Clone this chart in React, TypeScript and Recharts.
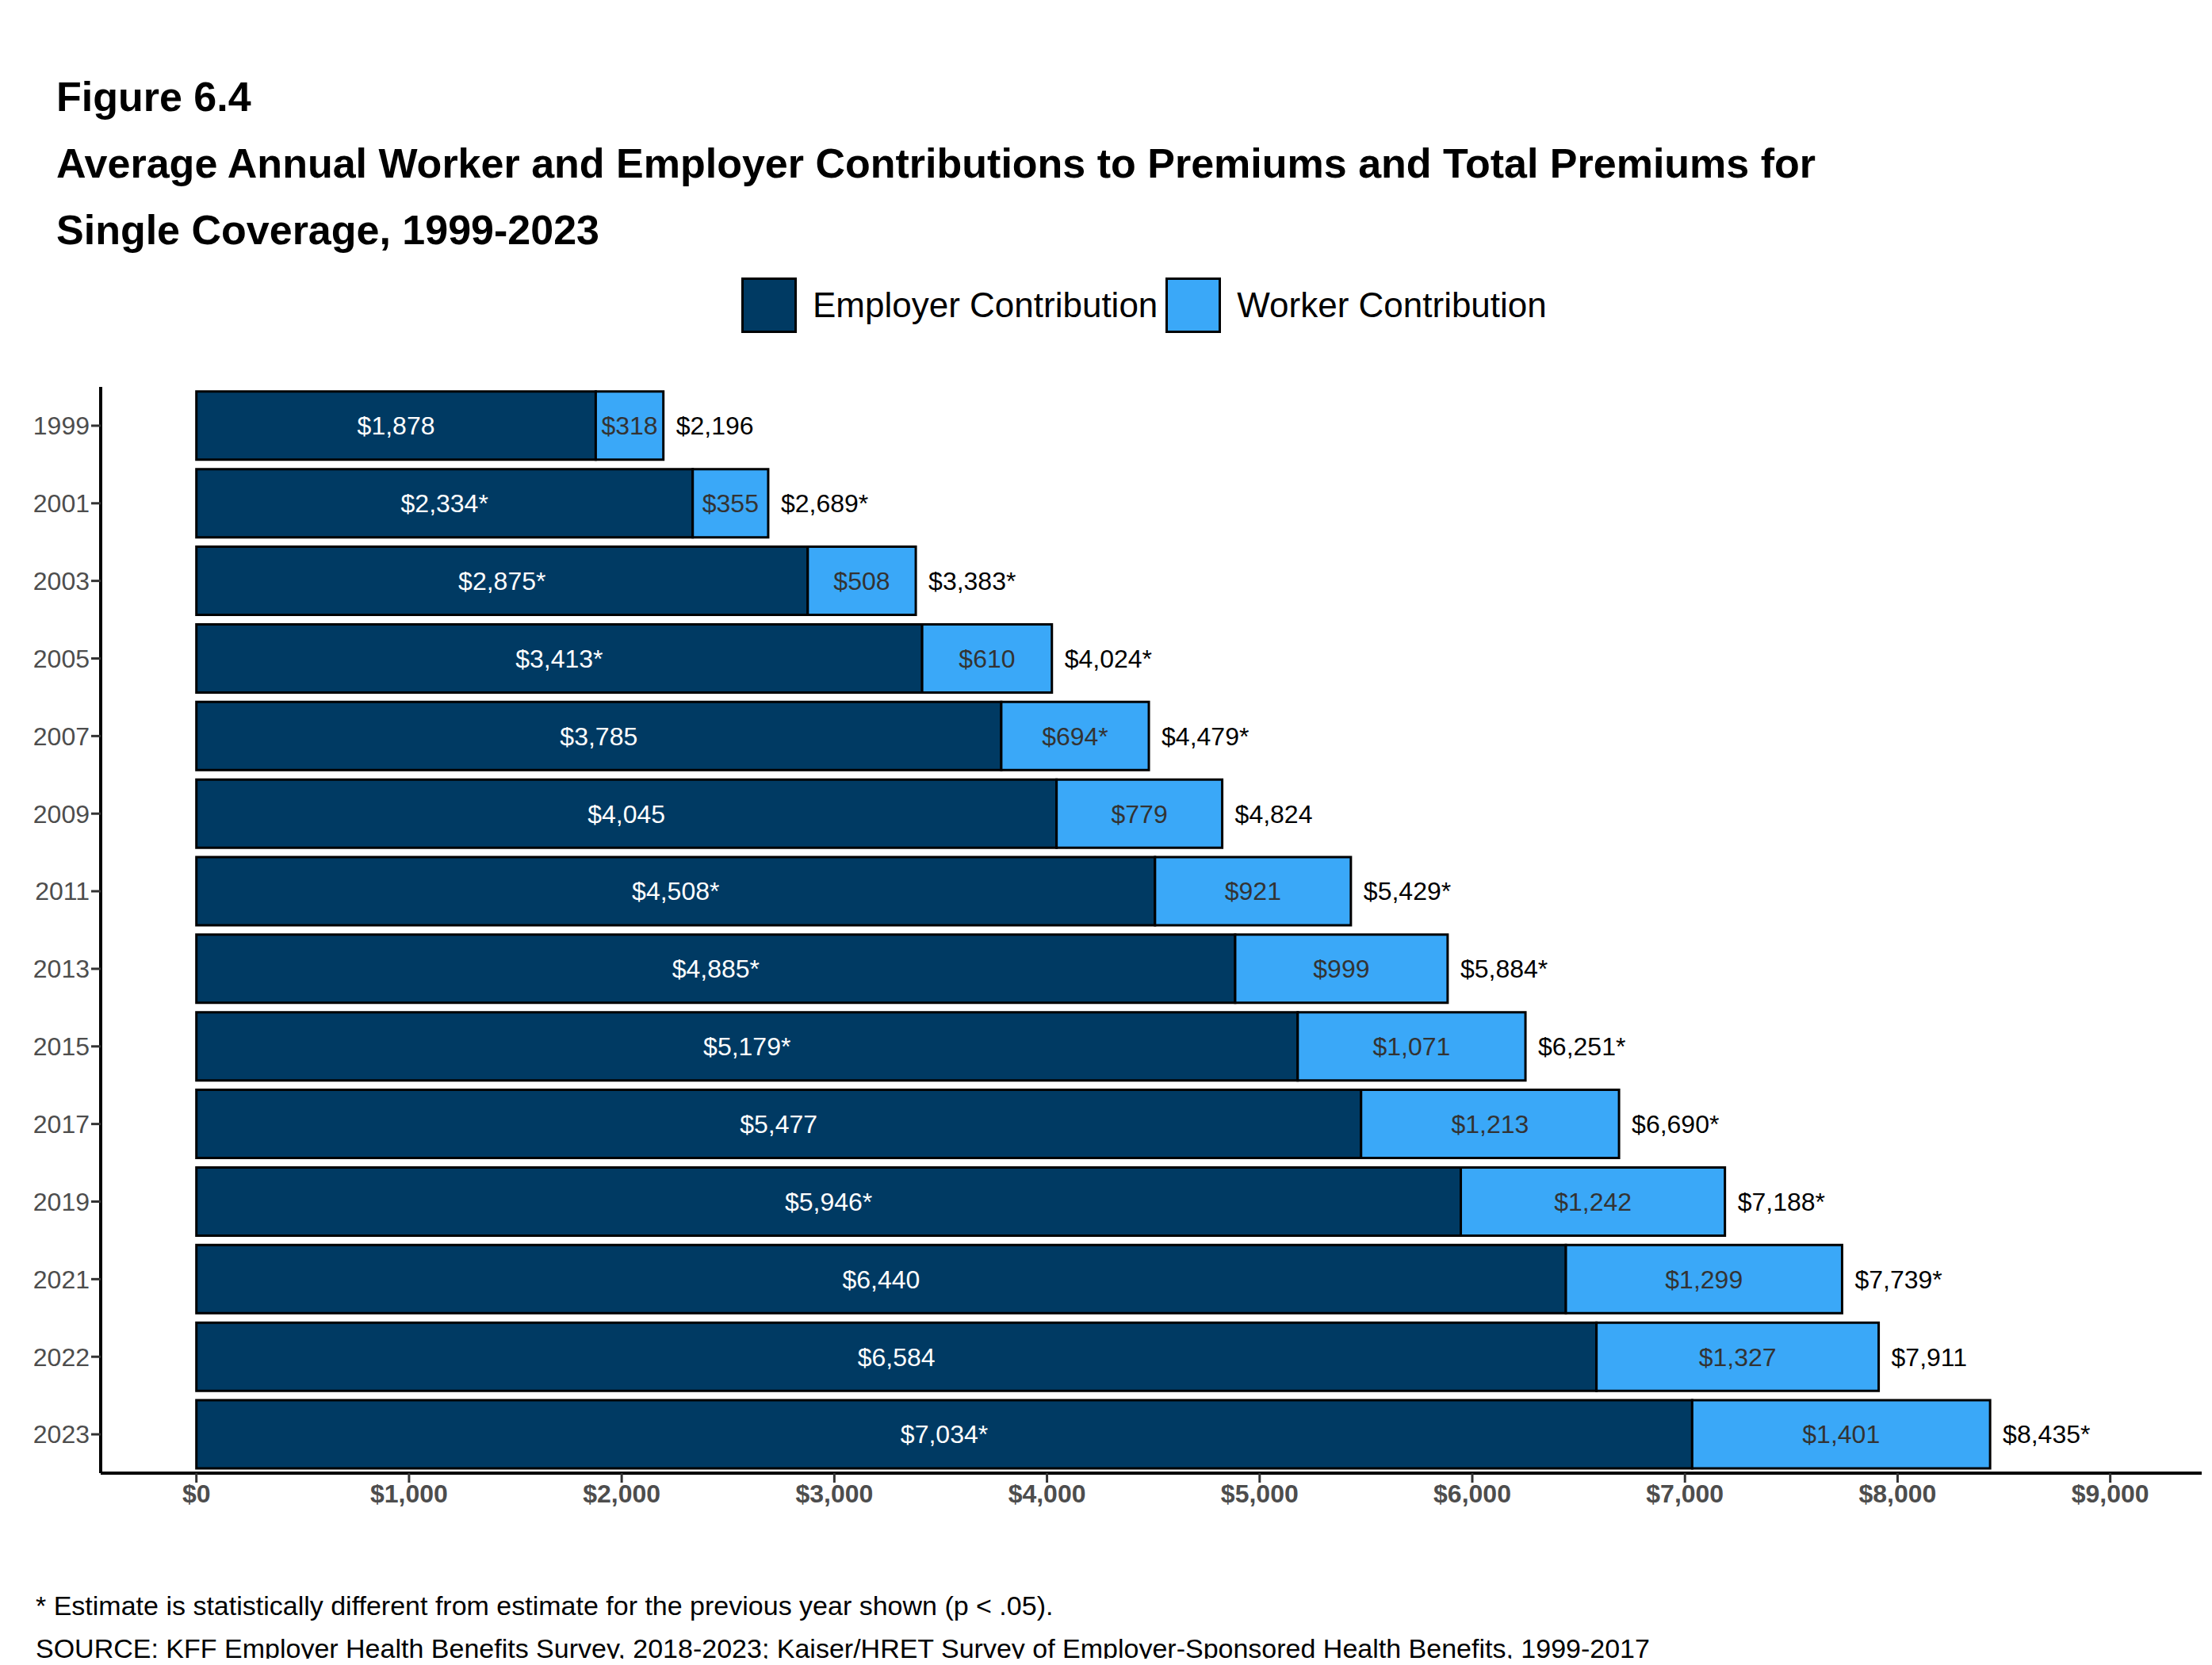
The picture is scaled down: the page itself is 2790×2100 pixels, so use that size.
import { Bar, BarChart, LabelList, XAxis, YAxis } from "recharts";

const years = ["1999", "2001", "2003", "2005", "2007", "2009", "2011", "2013", "2015", "2017", "2019", "2021", "2022", "2023"];
const employer = [1878, 2334, 2875, 3413, 3785, 4045, 4508, 4885, 5179, 5477, 5946, 6440, 6584, 7034];
const worker = [318, 355, 508, 610, 694, 779, 921, 999, 1071, 1213, 1242, 1299, 1327, 1401];
const employerLabels = ["$1,878", "$2,334*", "$2,875*", "$3,413*", "$3,785", "$4,045", "$4,508*", "$4,885*", "$5,179*", "$5,477", "$5,946*", "$6,440", "$6,584", "$7,034*"];
const workerLabels = ["$318", "$355", "$508", "$610", "$694*", "$779", "$921", "$999", "$1,071", "$1,213", "$1,242", "$1,299", "$1,327", "$1,401"];
const totalLabels = ["$2,196", "$2,689*", "$3,383*", "$4,024*", "$4,479*", "$4,824", "$5,429*", "$5,884*", "$6,251*", "$6,690*", "$7,188*", "$7,739*", "$7,911", "$8,435*"];
const xTicks = [0, 1000, 2000, 3000, 4000, 5000, 6000, 7000, 8000, 9000];

const data = years.map((y, i) => ({
  year: y,
  employer: employer[i],
  worker: worker[i],
  eLabel: employerLabels[i],
  wLabel: workerLabels[i],
  tLabel: totalLabels[i],
}));

const font = "'Liberation Sans', Arial, sans-serif";
const fmt = (v: number) => "$" + v.toLocaleString("en-US");

export default function App() {
  return (
    <div style={{ position: "relative", width: 2790, height: 2100, margin: -8, fontFamily: font, background: "#fff" }}>
      <div style={{ position: "absolute", left: 71, top: 80, fontSize: 52, fontWeight: "bold", lineHeight: "84px" }}>
        Figure 6.4
        <br />
        Average Annual Worker and Employer Contributions to Premiums and Total Premiums for
        <br />
        Single Coverage, 1999-2023
      </div>
      <div style={{ position: "absolute", left: 935, top: 350, display: "flex", alignItems: "center", fontSize: 44 }}>
        <div style={{ width: 64, height: 64, background: "#003a63", border: "3px solid #000" }} />
        <span style={{ marginLeft: 20, marginRight: 10 }}>Employer Contribution</span>
        <div style={{ width: 64, height: 64, background: "#3aa8f8", border: "3px solid #000" }} />
        <span style={{ marginLeft: 20 }}>Worker Contribution</span>
      </div>
      <div style={{ position: "absolute", top: 0, left: 0 }}>
        <BarChart
          width={2790}
          height={2100}
          data={data}
          layout="vertical"
          barCategoryGap="6%"
          margin={{ top: 488, right: 13, left: 7, bottom: 162 }}
        >
          <XAxis
            type="number"
            domain={[-450, 9430]}
            ticks={xTicks}
            tickFormatter={fmt}
            height={80}
            stroke="#000"
            strokeWidth={4}
            tickSize={12}
            tick={{ fill: "#4d4d4d", fontSize: 32, fontWeight: "bold", fontFamily: font }}
            tickLine={{ stroke: "#333", strokeWidth: 3 }}
          />
          <YAxis
            type="category"
            dataKey="year"
            width={120}
            stroke="#000"
            strokeWidth={4}
            tickSize={12}
            tick={{ fill: "#4d4d4d", fontSize: 32, fontFamily: font }}
            tickLine={{ stroke: "#333", strokeWidth: 3 }}
          />
          <Bar dataKey="employer" stackId="a" fill="#003a63" stroke="#000" strokeWidth={3} isAnimationActive={false}>
            <LabelList dataKey="eLabel" position="center" fill="#fff" fontSize={32} fontFamily={font} />
          </Bar>
          <Bar dataKey="worker" stackId="a" fill="#3aa8f8" stroke="#000" strokeWidth={3} isAnimationActive={false}>
            <LabelList dataKey="wLabel" position="center" fill="#333" fontSize={32} fontFamily={font} />
            <LabelList dataKey="tLabel" position="right" offset={16} fill="#000" fontSize={32} fontFamily={font} />
          </Bar>
        </BarChart>
      </div>
      <div style={{ position: "absolute", left: 45, top: 1998, fontSize: 34, lineHeight: "54px" }}>
        * Estimate is statistically different from estimate for the previous year shown (p &lt; .05).
        <br />
        SOURCE: KFF Employer Health Benefits Survey, 2018-2023; Kaiser/HRET Survey of Employer-Sponsored Health Benefits, 1999-2017
      </div>
    </div>
  );
}
